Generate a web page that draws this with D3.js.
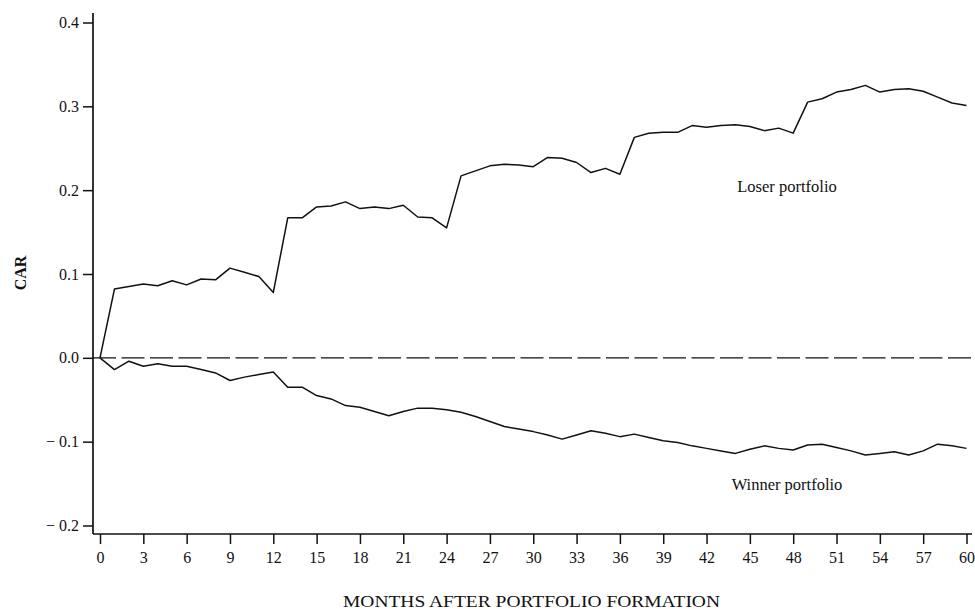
<!DOCTYPE html>
<html>
<head>
<meta charset="utf-8">
<script src="https://cdn.jsdelivr.net/npm/d3@7"></script>
<style>
  body { margin: 0; background: #fff; }
  svg { display: block; }
  text { font-family: "Liberation Serif", "Times New Roman", serif; fill: #111; }
</style>
</head>
<body>
<svg class="car" width="975" height="609"></svg>
<script>
// months after formation, 0..60
var months = d3.range(0, 61);

// cumulative average residuals
var loser = [0, 0.082, 0.085, 0.088, 0.086, 0.092, 0.087, 0.094, 0.093, 0.107,
  0.102, 0.097, 0.078, 0.167, 0.167, 0.180, 0.181, 0.186, 0.178, 0.180,
  0.178, 0.182, 0.168, 0.167, 0.155, 0.217, 0.223, 0.229, 0.231, 0.230,
  0.228, 0.239, 0.238, 0.233, 0.221, 0.226, 0.219, 0.263, 0.268, 0.269,
  0.269, 0.277, 0.275, 0.277, 0.278, 0.276, 0.271, 0.274, 0.268, 0.305,
  0.309, 0.317, 0.320, 0.325, 0.317, 0.320, 0.321, 0.318, 0.311, 0.304, 0.301];

var winner = [0, -0.014, -0.004, -0.010, -0.007, -0.010, -0.010, -0.014, -0.018, -0.027,
  -0.023, -0.020, -0.017, -0.035, -0.035, -0.045, -0.049, -0.057, -0.059, -0.064,
  -0.069, -0.064, -0.060, -0.060, -0.062, -0.065, -0.070, -0.076, -0.082, -0.085,
  -0.088, -0.092, -0.097, -0.092, -0.087, -0.090, -0.094, -0.091, -0.095, -0.099,
  -0.101, -0.105, -0.108, -0.111, -0.114, -0.109, -0.105, -0.108, -0.110, -0.104,
  -0.103, -0.107, -0.111, -0.116, -0.114, -0.112, -0.116, -0.111, -0.103, -0.105, -0.108];

var xTicks = d3.range(0, 61, 3);
var yTicks = [-0.2, -0.1, 0.0, 0.1, 0.2, 0.3, 0.4];

var svg = d3.select(".car");

var x = d3.scaleLinear()
  .domain([0, 60])
  .range([100, 966.5]);
var y = d3.scaleLinear()
  .domain([-0.2, 0.4])
  .range([525.5, 22.5]);

var axisX = 93;   // where the vertical axis sits
var axisY = 534;  // where the horizontal axis sits

// d3 axes, then strip the domain path and draw the axis lines ourselves
var xAxis = d3.axisBottom(x)
  .tickValues(xTicks)
  .tickSize(10)
  .tickPadding(8)
  .tickFormat(d3.format("d"));

var gx = svg.append("g")
  .attr("transform", "translate(0," + axisY + ")")
  .call(xAxis);
gx.select(".domain").remove();

var yAxis = d3.axisLeft(y)
  .tickValues(yTicks)
  .tickSize(10)
  .tickPadding(4)
  .tickFormat(function(d) {
    // the figure puts a spaced minus in front of negatives
    var s = Math.abs(d).toFixed(1);
    return d < 0 ? "\u2212 " + s : s;
  });

var gy = svg.append("g")
  .attr("transform", "translate(" + axisX + ",0)")
  .call(yAxis);
gy.select(".domain").remove();

svg.selectAll(".tick line")
  .attr("stroke", "#111")
  .attr("stroke-width", 1.5);
svg.selectAll(".tick text")
  .style("font-family", "'Liberation Serif', serif")
  .style("font-size", "16px")
  .attr("fill", "#111");

// axis lines
svg.append("line")
  .attr("x1", axisX).attr("x2", axisX)
  .attr("y1", 13).attr("y2", axisY)
  .attr("stroke", "#111").attr("stroke-width", 1.7);
svg.append("line")
  .attr("x1", axisX).attr("x2", 972)
  .attr("y1", axisY).attr("y2", axisY)
  .attr("stroke", "#111").attr("stroke-width", 1.7);

// zero reference, long dashes
svg.append("line")
  .attr("x1", axisX).attr("x2", 975)
  .attr("y1", y(0)).attr("y2", y(0))
  .attr("stroke", "#111")
  .attr("stroke-width", 1.2)
  .attr("stroke-dasharray", "23,5.5");

var line = d3.line()
  .x(function(d, i) { return x(months[i]); })
  .y(function(d) { return y(d); });

svg.append("path")
  .datum(loser)
  .attr("d", line)
  .attr("fill", "none")
  .attr("stroke", "#111")
  .attr("stroke-width", 1.5)
  .attr("stroke-linejoin", "round");

svg.append("path")
  .datum(winner)
  .attr("d", line)
  .attr("fill", "none")
  .attr("stroke", "#111")
  .attr("stroke-width", 1.5)
  .attr("stroke-linejoin", "round");

// series labels
svg.append("text")
  .attr("x", 787).attr("y", 192)
  .attr("text-anchor", "middle")
  .style("font-size", "16.5px")
  .text("Loser portfolio");

svg.append("text")
  .attr("x", 787).attr("y", 490)
  .attr("text-anchor", "middle")
  .style("font-size", "16.5px")
  .text("Winner portfolio");

// axis titles
svg.append("text")
  .attr("transform", "translate(26,273) rotate(-90)")
  .attr("text-anchor", "middle")
  .style("font-size", "16px")
  .style("font-weight", "bold")
  .text("CAR");

svg.append("text")
  .attr("x", 343).attr("y", 607)
  .attr("textLength", 377)
  .attr("lengthAdjust", "spacingAndGlyphs")
  .style("font-size", "16px")
  .text("MONTHS AFTER PORTFOLIO FORMATION");
</script>
</body>
</html>
